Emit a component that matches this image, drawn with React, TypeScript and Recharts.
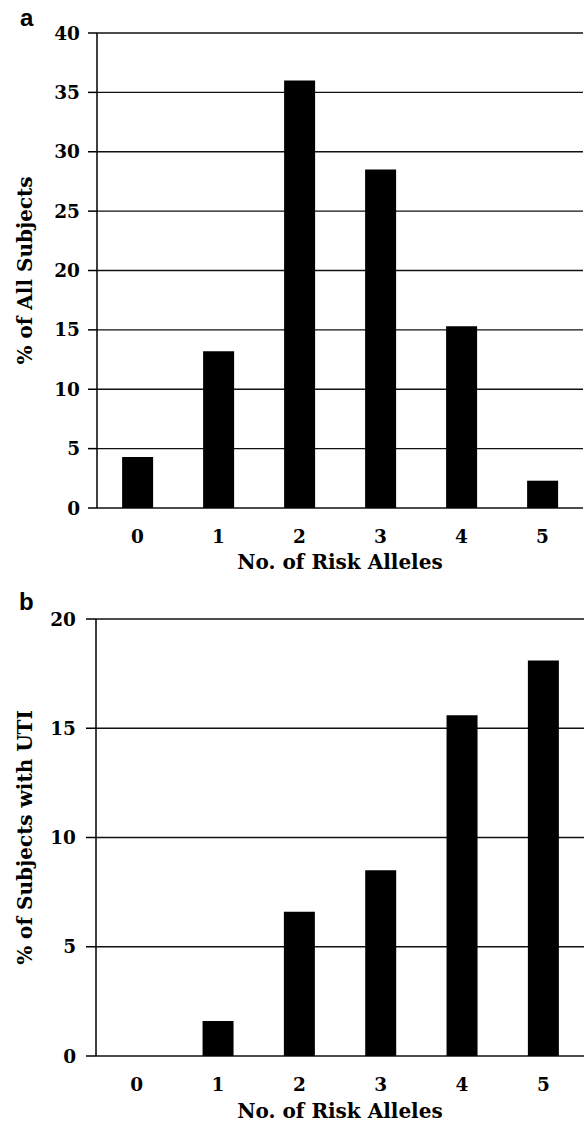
import { BarChart, Bar, XAxis, YAxis, CartesianGrid } from "recharts";

const alleles = ["0", "1", "2", "3", "4", "5"];
const allSubjects = [4.3, 13.2, 36.0, 28.5, 15.3, 2.3];
const utiSubjects = [0, 1.6, 6.6, 8.5, 15.6, 18.1];
const ticksA = [0, 5, 10, 15, 20, 25, 30, 35, 40];
const ticksB = [0, 5, 10, 15, 20];
const edgeTicks = [0, 1, 2, 3, 4, 5, 6];

const serif = "DejaVu Serif";
const tickStyle = { fontFamily: serif, fontSize: 18.5, fontWeight: 700, fill: "#000" };
const titleStyle = { fontFamily: serif, fontSize: 20, fontWeight: 700, fill: "#000", textAnchor: "middle" as const };
const panelLetter = {
  position: "absolute" as const,
  fontFamily: "Liberation Sans",
  fontWeight: 700,
  fontSize: 24,
  lineHeight: "24px",
};

interface PanelProps {
  values: number[];
  ticks: number[];
  max: number;
  yLabel: string;
  height: number;
  top: number;
  right: number;
  yWidth: number;
  xHeight: number;
  yTickSize: number;
  yTickMargin: number;
  xLabelOffset: number;
}

function Panel(p: PanelProps) {
  const data = alleles.map((a, i) => ({ alleles: a, value: p.values[i] }));
  return (
    <BarChart
      width={586}
      height={p.height}
      data={data}
      margin={{ top: p.top, right: p.right, bottom: 0, left: 0 }}
      barCategoryGap="31%"
    >
      <CartesianGrid vertical={false} stroke="#111" strokeWidth={1.3} />
      <XAxis
        xAxisId="edges"
        type="number"
        domain={[0, 6]}
        ticks={edgeTicks}
        tick={false}
        tickSize={8}
        height={0}
        stroke="#000"
        strokeWidth={1.5}
      />
      <XAxis
        dataKey="alleles"
        height={p.xHeight}
        axisLine={false}
        tickLine={false}
        tickSize={0}
        tickMargin={22}
        tick={tickStyle}
        label={{ value: "No. of Risk Alleles", position: "insideBottom", offset: p.xLabelOffset, style: titleStyle }}
      />
      <YAxis
        domain={[0, p.max]}
        ticks={p.ticks}
        interval={0}
        width={p.yWidth}
        tickSize={p.yTickSize}
        tickMargin={p.yTickMargin}
        tick={tickStyle}
        stroke="#000"
        strokeWidth={1.5}
        label={{ value: p.yLabel, angle: -90, position: "insideLeft", offset: 25, style: titleStyle }}
      />
      <YAxis
        yAxisId="r"
        orientation="right"
        type="number"
        domain={[0, 1]}
        width={0}
        tick={false}
        tickLine={false}
        stroke="#000"
        strokeWidth={1.5}
      />
      <Bar dataKey="value" fill="#000" isAnimationActive={false} />
    </BarChart>
  );
}

export default function App() {
  return (
    <div style={{ position: "absolute", top: 0, left: 0, width: 586, height: 1125, background: "#fff" }}>
      <div style={{ ...panelLetter, left: 20, top: 6 }}>a</div>
      <div style={{ ...panelLetter, left: 19, top: 590 }}>b</div>
      <div style={{ position: "absolute", top: 0, left: 0 }}>
        <Panel
          values={allSubjects}
          ticks={ticksA}
          max={40}
          yLabel="% of All Subjects"
          height={580}
          top={33}
          right={3}
          yWidth={97}
          xHeight={72}
          yTickSize={9}
          yTickMargin={8}
          xLabelOffset={11}
        />
      </div>
      <div style={{ position: "absolute", top: 580, left: 0 }}>
        <Panel
          values={utiSubjects}
          ticks={ticksB}
          max={20}
          yLabel="% of Subjects with UTI"
          height={545}
          top={39}
          right={2}
          yWidth={96}
          xHeight={69}
          yTickSize={10}
          yTickMargin={10}
          xLabelOffset={7}
        />
      </div>
    </div>
  );
}
